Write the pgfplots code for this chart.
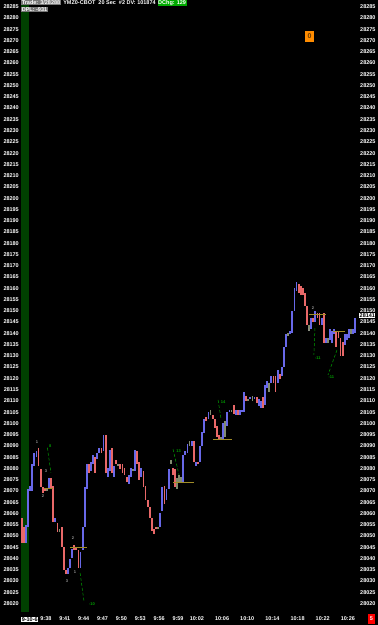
\documentclass[border=0pt]{standalone}
\usepackage{pgfplots}
\pgfplotsset{compat=1.18}
\usepackage{pgfplotstable}
\usepackage{fontspec}
\setmainfont{Liberation Sans}

\definecolor{upblue}{RGB}{104,104,232}
\definecolor{dnred}{RGB}{232,104,104}
\definecolor{neut}{RGB}{130,140,110}
\definecolor{sessgreen}{RGB}{0,64,0}
\definecolor{zzgreen}{RGB}{0,160,0}
\definecolor{lvl}{RGB}{160,140,40}
\definecolor{annog}{RGB}{150,150,150}
\definecolor{boxgrey}{RGB}{120,120,120}
\definecolor{dchg}{RGB}{0,170,0}
\definecolor{orng}{RGB}{255,140,0}

\pgfplotstableread{
x lo hi
2 28047 28055
3 28054 28071
4 28070 28072
5 28070 28082
6 28081 28087
7 28085 28088
13 28071 28076
16 28056 28058
22 28033 28036
23 28036 28040
24 28040 28044
28 28036 28043
29 28044 28054
30 28054 28072
31 28071 28082
33 28079 28083
34 28082 28086
36 28084 28087
37 28087 28089
39 28088 28095
41 28076 28080
42 28079 28088
44 28076 28081
51 28073 28077
52 28076 28080
54 28079 28088
57 28076 28080
66 28054 28060
67 28061 28072
69 28066 28071
70 28071 28080
77 28074 28086
78 28086 28088
79 28087 28091
81 28090 28092
83 28081 28083
85 28083 28090
86 28090 28096
87 28096 28102
89 28102 28105
96 28093 28100
98 28099 28105
99 28105 28106
102 28104 28106
104 28104 28106
105 28105 28106
106 28105 28114
109 28111 28112
111 28111 28112
113 28108 28111
114 28107 28110
116 28108 28117
117 28116 28119
119 28118 28121
122 28118 28124
124 28121 28125
125 28125 28134
126 28134 28140
128 28140 28141
129 28140 28150
130 28150 28160
131 28159 28163
138 28142 28147
140 28145 28150
143 28144 28147
145 28136 28138
147 28137 28142
148 28136 28141
149 28140 28142
154 28135 28140
155 28137 28140
156 28138 28142
158 28140 28142
159 28140 28147
}\upbars

\pgfplotstableread{
x lo hi
0 28047 28058
1 28047 28054
8 28081 28089
9 28072 28080
10 28069 28072
11 28070 28071
14 28071 28076
15 28056 28072
17 28052 28056
19 28045 28054
20 28035 28045
21 28033 28035
25 28044 28046
26 28044 28045
27 28036 28044
32 28078 28082
35 28078 28085
38 28087 28089
40 28078 28095
43 28078 28089
45 28082 28084
47 28080 28082
48 28078 28082
49 28077 28080
50 28074 28076
55 28082 28088
56 28075 28083
58 28072 28079
59 28066 28072
60 28063 28066
61 28058 28063
62 28052 28058
63 28051 28053
64 28053 28054
68 28064 28072
72 28077 28080
73 28072 28080
82 28083 28092
84 28082 28083
88 28101 28103
91 28102 28104
92 28098 28102
93 28094 28099
94 28093 28095
101 28104 28108
103 28104 28106
107 28110 28112
112 28109 28112
115 28107 28112
120 28118 28121
121 28114 28121
123 28120 28122
132 28158 28162
133 28157 28161
134 28157 28160
135 28152 28158
136 28144 28152
139 28145 28147
141 28147 28149
142 28144 28149
144 28136 28149
150 28134 28141
151 28138 28141
152 28130 28138
153 28130 28136
}\dnbars

\pgfplotstableread{
x lo hi
12 28070 28071
18 28052 28053
46 28081 28082
53 28079 28080
65 28053 28054
71 28082 28084
74 28071 28076
75 28074 28077
76 28074 28076
80 28090 28092
90 28104 28106
95 28093 28094
97 28094 28101
100 28105 28106
108 28110 28111
110 28110 28112
118 28114 28118
127 28139 28140
137 28141 28144
146 28136 28138
157 28140 28142
}\nbars

\pgfplotsset{
  chartbase/.style={
    at={(0pt,0pt)}, anchor=south west, scale only axis,
    width=336.5pt, height=612pt,
    xmin=-0.86, xmax=159.6, ymin=28016.24, ymax=28288,
    axis line style={draw=none}, major tick length=0pt,
    ytick={28015,28020,28025,28030,28035,28040,28045,28050,28055,28060,28065,28070,28075,28080,28085,28090,28095,28100,28105,28110,28115,28120,28125,28130,28135,28140,28145,28150,28155,28160,28165,28170,28175,28180,28185,28190,28195,28200,28205,28210,28215,28220,28225,28230,28235,28240,28245,28250,28255,28260,28265,28270,28275,28280,28285},
    scaled y ticks=false,
    tick label style={text=white, font=\fontsize{5.5}{6}\selectfont\bfseries, inner sep=0pt},
    yticklabel style={/pgf/number format/fixed, /pgf/number format/precision=0, /pgf/number format/1000 sep={}, /pgf/number format/assume math mode=true},
  },
  bars/.style={draw=none, mark=none, forget plot,
    error bars/.cd, y dir=both, y explicit, error mark=none,
    error bar style={draw=#1, line width=1.8pt}},
}

\begin{document}
\begin{tikzpicture}[font=\fontsize{5.5}{6}\selectfont\bfseries]
\fill[black] (-20pt,-13pt) rectangle (358pt,612pt);
\useasboundingbox (-20pt,-13pt) rectangle (358pt,612pt);

\begin{axis}[chartbase,
  yticklabel pos=left, yticklabel style={anchor=east, xshift=-1pt},
  xtick={11.5,20.5,29.5,38.5,47.5,56.5,65.5,74.5,83.5,95.5,107.5,119.5,131.5,143.5,155.5},
  xticklabels={9:38,9:41,9:44,9:47,9:50,9:53,9:56,9:59,10:02,10:06,10:10,10:14,10:18,10:22,10:26},
  xticklabel style={anchor=north, yshift=-4pt},
]
\fill[sessgreen] (axis cs:-0.38,28016.24) rectangle (axis cs:3.43,28288);

\addplot[bars=upblue] table[x=x, y expr={(\thisrow{lo}+\thisrow{hi})/2}, y error expr={(\thisrow{hi}-\thisrow{lo})/2}] {\upbars};
\addplot[bars=dnred] table[x=x, y expr={(\thisrow{lo}+\thisrow{hi})/2}, y error expr={(\thisrow{hi}-\thisrow{lo})/2}] {\dnbars};
\addplot[bars=neut] table[x=x, y expr={(\thisrow{lo}+\thisrow{hi})/2}, y error expr={(\thisrow{hi}-\thisrow{lo})/2}] {\nbars};

% swing level lines
\addplot[lvl, line width=0.7pt] coordinates {(10.6,28071) (14.9,28071)};
\addplot[lvl, line width=0.7pt] coordinates {(23,28045) (31,28045)};
\addplot[lvl, line width=0.7pt] coordinates {(72.1,28074) (82.1,28074)};
\addplot[lvl, line width=0.7pt] coordinates {(91.2,28093) (100.2,28093)};
\addplot[lvl, line width=0.7pt] coordinates {(137,28148.5) (145.1,28148.5)};
\addplot[lvl, line width=0.7pt] coordinates {(148.4,28141) (154.1,28141)};

% zigzag lines
\addplot[zzgreen, densely dashed, line width=0.5pt] coordinates {(12.2,28089.2) (13.9,28078)};
\addplot[zzgreen, densely dashed, line width=0.5pt] coordinates {(27.8,28033.6) (29.7,28020.7)};
\addplot[zzgreen, densely dashed, line width=0.5pt] coordinates {(72.1,28088.6) (75,28077)};
\addplot[zzgreen, densely dashed, line width=0.5pt] coordinates {(93.6,28110.4) (95,28102)};
\addplot[zzgreen, densely dashed, line width=0.5pt] coordinates {(139.8,28142.3) (139.3,28130.4)};
\addplot[zzgreen, densely dashed, line width=0.5pt] coordinates {(150.3,28132.6) (146,28121.5)};

\begin{scope}[font=\fontsize{4}{4}\selectfont\bfseries]
\node[zzgreen] at (axis cs:13.6,28090) {8};
\node[zzgreen] at (axis cs:33.5,28019.8) {-10};
\node[zzgreen] at (axis cs:74.8,28087.7) {13};
\node[zzgreen] at (axis cs:96,28109.5) {14};
\node[zzgreen] at (axis cs:141.2,28129) {-11};
\node[zzgreen] at (axis cs:147.6,28120.6) {-11};
\node[annog] at (axis cs:7.2,28091.7) {1};
\node[annog] at (axis cs:11.5,28078.9) {3};
\node[annog] at (axis cs:10.1,28067.7) {2};
\node[annog] at (axis cs:24.4,28049) {2};
\node[annog] at (axis cs:25.4,28034) {1};
\node[annog] at (axis cs:21.6,28030) {3};
\node[annog] at (axis cs:138.9,28151.2) {2};
\node[annog] at (axis cs:137,28141.5) {1};
\end{scope}
\end{axis}

\begin{axis}[chartbase,
  yticklabel pos=right, yticklabel style={anchor=west, xshift=3.5pt},
  xtick=\empty,
]
\addplot[draw=none, forget plot] coordinates {(0,28100)};
\end{axis}

% header texts
\node[anchor=north west, fill=boxgrey, text=white, inner sep=0.6pt] (t1) at (1pt,612pt) {Trade: 3/28288};
\node[anchor=west, text=white, inner sep=0.6pt] (t2) at ([xshift=1.5pt]t1.east) {YMZ0-CBOT\ \ 20 Sec\ \ \#2 DV: 101874};
\node[anchor=west, fill=dchg, text=white, inner sep=0.6pt] at ([xshift=1pt]t2.east) {DChg: 129};
\node[anchor=north west, fill=boxgrey, text=white, inner sep=0.6pt] at (1pt,605pt) {DPL: -931};

\node[fill=orng, text=black!60!orng, minimum width=9pt, minimum height=11pt, inner sep=0pt, font=\fontsize{7}{7}\selectfont\bfseries] at (289.5pt,575.5pt) {0};

\node[fill=white, text=black, inner sep=0.5pt, anchor=west] at (339pt,296.5pt) {28141};

\node[fill=white, text=black, anchor=west, inner sep=0.6pt] at (1pt,-7.5pt) {9-10-6};
\node[fill=red, text=white, minimum width=7pt, minimum height=10pt, inner sep=0pt] at (351.5pt,-7pt) {5};
\end{tikzpicture}
\end{document}
